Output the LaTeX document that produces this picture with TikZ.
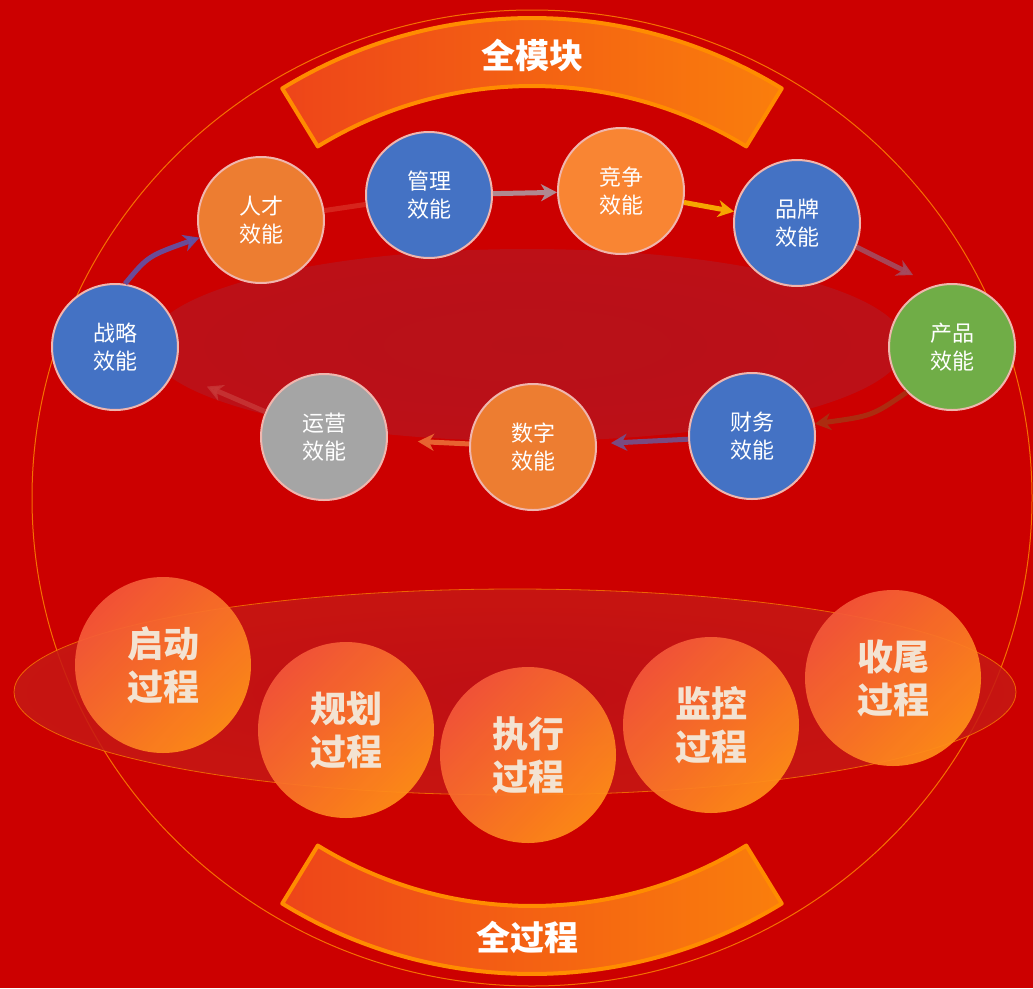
\documentclass[tikz,border=0pt]{standalone}
\usepackage{fontspec}
\setmainfont{Noto Sans CJK SC}
\usepackage{tikz}
\usetikzlibrary{calc,arrows.meta}
\usepackage{xcolor}

\definecolor{fondo}{HTML}{CC0000}
\definecolor{brilloB}{HTML}{D82A0A}
\definecolor{ovaloA}{HTML}{B6131B}
\definecolor{ovaloB}{HTML}{BE111A}
\definecolor{ovaloC}{HTML}{C80610}
\definecolor{baseA}{HTML}{BE1218}
\definecolor{baseB}{HTML}{C81A14}
\definecolor{baseC}{HTML}{D83C12}
\definecolor{naranja}{HTML}{FF8C00}
\definecolor{bandaA}{HTML}{EE4519}
\definecolor{bandaB}{HTML}{FA7E0C}
\definecolor{azul}{HTML}{4472C4}
\definecolor{naranjaM}{HTML}{ED7D31}
\definecolor{naranjaC}{HTML}{F98533}
\definecolor{verde}{HTML}{70AD47}
\definecolor{gris}{HTML}{A5A5A5}
\definecolor{aro}{HTML}{F0B6AE}
\definecolor{procA}{HTML}{F4583A}
\definecolor{procB}{HTML}{FF9018}
\definecolor{crema}{HTML}{F3E3D2}

\pgfdeclareradialshading{brillo}{\pgfpoint{0bp}{0bp}}{color(0bp)=(fondo); color(33bp)=(fondo); color(50bp)=(brilloB)}
\pgfdeclareradialshading{ovalo}{\pgfpoint{0bp}{0bp}}{color(0bp)=(ovaloA); color(38bp)=(ovaloB); color(50bp)=(ovaloC)}
\pgfdeclareradialshading{base}{\pgfpoint{0bp}{0bp}}{color(0bp)=(baseA); color(30bp)=(baseB); color(50bp)=(baseC)}

\begin{document}
\begin{tikzpicture}[x=1pt, y=-1pt,
    modulo/.style={circle, minimum size=126pt, inner sep=0pt, draw=aro, line width=2pt,
        text=white, align=center, font=\fontsize{22}{28}\selectfont},
    proceso/.style={circle, minimum size=176pt, inner sep=0pt, top color=procA, bottom color=procB,
        shading angle=45, fill opacity=0.93, text opacity=1, text=crema, align=center,
        font=\bfseries\fontsize{36}{43}\selectfont},
    flecha/.style={line width=5pt, -{Stealth[length=16pt, width=17pt, inset=5pt]}},
    banda/.style={left color=bandaA, right color=bandaB, draw=naranja, line width=4pt, line join=round},
    titulo/.style={text=white, font=\bfseries\fontsize{34}{40}\selectfont}]
    % Fondo
    \useasboundingbox (0,0) rectangle (1033,988);
    \fill[fondo] (0,0) rectangle (1033,988);

    % Circulo grande
    \shade[shading=brillo] (532,498) ellipse [x radius=500, y radius=488];
    \draw[naranja, line width=1pt, opacity=0.8] (532,498) ellipse [x radius=500, y radius=488];

    % Ovalo oscuro de los modulos y ovalo de los procesos
    \shade[shading=ovalo, opacity=0.9] (527,345) ellipse [x radius=378, y radius=96];
    \shade[shading=base, opacity=0.85] (515,692) ellipse [x radius=501, y radius=103];
    \draw[naranja, line width=0.8pt, opacity=0.7] (515,692) ellipse [x radius=501, y radius=103];

    % Bandas de arriba y de abajo
    \coordinate (O) at (532,496);
    \draw[banda] ($(O)+(-121.5:478)$) arc[start angle=-121.5, end angle=-58.5, radius=478]
        -- ($(O)+(-58.5:410)$) arc[start angle=-58.5, end angle=-121.5, radius=410] -- cycle;
    \draw[banda] ($(O)+(121.5:478)$) arc[start angle=121.5, end angle=58.5, radius=478]
        -- ($(O)+(58.5:410)$) arc[start angle=58.5, end angle=121.5, radius=410] -- cycle;
    \node[titulo] (tmod) at (532,55) {全模块};
    \node[titulo] (tproc) at (527,937) {全过程};

    % Modulos de eficiencia
    \node[modulo, fill=azul] (estr) at (115,347) {战略\\效能};
    \node[modulo, fill=naranjaM] (tal) at (261,220) {人才\\效能};
    \node[modulo, fill=azul] (gest) at (429,195) {管理\\效能};
    \node[modulo, fill=naranjaC] (comp) at (621,191) {竞争\\效能};
    \node[modulo, fill=azul] (marca) at (797,223) {品牌\\效能};
    \node[modulo, fill=verde] (prod) at (952,347) {产品\\效能};
    \node[modulo, fill=azul] (fin) at (752,436) {财务\\效能};
    \node[modulo, fill=naranjaM] (dig) at (533,447) {数字\\效能};
    \node[modulo, fill=gris] (oper) at (324,437) {运营\\效能};

    % Flechas del ciclo
    \coordinate (pm) at (913,275);
    \draw[flecha, color={rgb,255:red,96;green,84;blue,168}, opacity=0.9] (estr.81) .. controls (148,256) .. (tal.196);
    \draw[line width=5pt, color={rgb,255:red,222;green,60;blue,48}, opacity=0.6] (tal) -- (gest);
    \draw[flecha, color={rgb,255:red,176;green,136;blue,144}] (gest) -- (comp);
    \draw[flecha, color={rgb,255:red,246;green,166;blue,0}] (comp) -- (marca);
    \draw[flecha, color={rgb,255:red,164;green,76;blue,96}, opacity=0.9] (marca.-22) -- (pm);
    \draw[flecha, color={rgb,255:red,172;green,44;blue,16}] (prod.225) .. controls (872,416) .. (fin.11);
    \draw[flecha, color={rgb,255:red,122;green,74;blue,128}, shorten >=14pt] (fin) -- (dig);
    \draw[flecha, color={rgb,255:red,232;green,98;blue,48}, shorten >=30pt] (dig) -- (oper);
    \draw[flecha, color={rgb,255:red,200;green,56;blue,56}, opacity=0.8, shorten >=36pt] (oper) -- (estr);

    % Procesos
    \node[proceso] (ini) at (163,665) {启动\\过程};
    \node[proceso] (plan) at (346,730) {规划\\过程};
    \node[proceso] (ejec) at (528,755) {执行\\过程};
    \node[proceso] (moni) at (711,725) {监控\\过程};
    \node[proceso] (cier) at (893,678) {收尾\\过程};
\end{tikzpicture}
\end{document}
